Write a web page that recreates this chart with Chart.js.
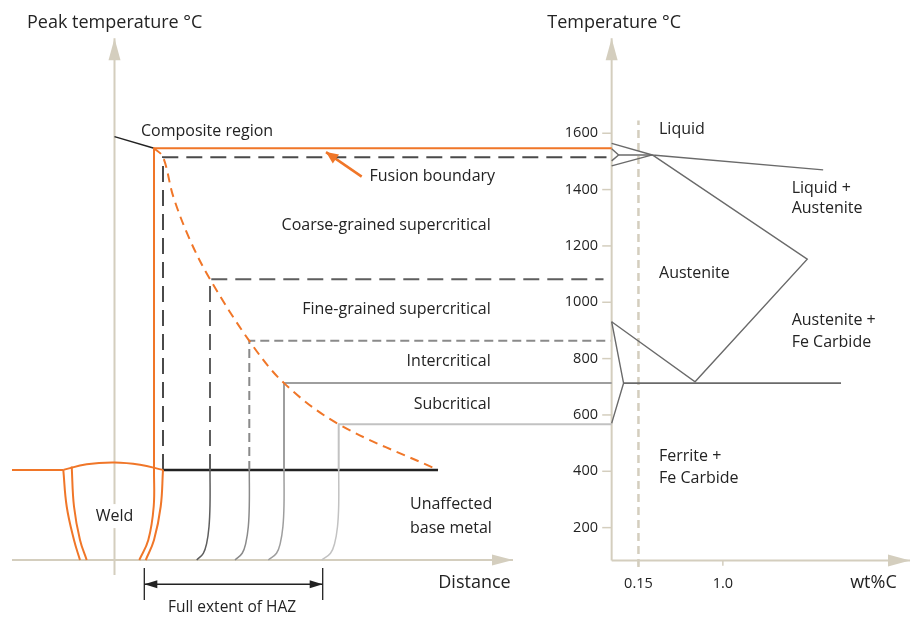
<!DOCTYPE html>
<html>
<head>
<meta charset="utf-8">
<script src="https://cdn.jsdelivr.net/npm/chart.js@4.4.1/dist/chart.umd.min.js"></script>
<style>
  html, body { margin: 0; padding: 0; background: #fff; }
  canvas { display: block; }
</style>
</head>
<body>
<canvas id="haz" width="913" height="622"></canvas>
<script>
// left panel: [distance from weld centre line, peak temperature °C]
const plateSurface = [[-10.25, 405], [-5.12, 405]];
const weldCap = [[-5.12, 405], [-2.78, 425], [0, 431], [2.55, 423], [4.85, 405]];
const weldLeftOuter = [[-5.12, 405], [-4.78, 275], [-4.05, 156], [-3.45, 85]];
const weldLeftInner = [[-4.28, 417], [-4.05, 275], [-3.45, 156], [-2.78, 85]];
const fusionTop = [[49.72, 1547], [3.95, 1547], [3.95, 405]];
const fusionFoot = [[3.95, 405], [3.92, 275], [3.38, 156], [2.48, 85]];
const hazStartFoot = [[4.85, 405], [4.62, 275], [3.95, 156], [3.12, 85]];
const peakCurve = [[3.95, 1547], [4.85, 1516], [5.88, 1375], [7.55, 1221], [9.55, 1082],
                   [13.48, 863], [16.95, 713], [22.42, 567], [32.35, 405]];
const coarseEdge = [[4.85, 405], [4.85, 1515], [49.2, 1515]];
const fineEdge = [[9.55, 405], [9.55, 1082], [48.9, 1082]];
const fineFoot = [[9.55, 405], [9.55, 280], [9.45, 203], [9.22, 145], [8.88, 109], [8.22, 85]];
const interEdge = [[13.48, 405], [13.48, 863], [49.6, 863]];
const interFoot = [[13.48, 405], [13.48, 280], [13.38, 203], [13.13, 145], [12.77, 109], [12.05, 85]];
const subEdge = [[49.72, 713], [16.95, 713], [16.95, 405]];
const subFoot = [[16.95, 405], [16.95, 280], [16.84, 203], [16.58, 145], [16.2, 109], [15.38, 85]];
const outerEdge = [[49.72, 567], [22.42, 567], [22.42, 405]];
const outerFoot = [[22.42, 405], [22.42, 280], [22.3, 203], [22.02, 145], [21.6, 109], [20.72, 85]];
const baseLine = [[4.85, 405], [32.35, 405]];
const compositeLeader = [[0, 1588], [3.95, 1547]];
const fusionPointer = [[24.72, 1446], [21.15, 1533]];
const hazTickL = [[2.98, 57], [2.98, -57]];
const hazTickR = [[20.82, 57], [20.82, -57]];
const hazSpan = [[2.98, -1], [20.82, -1]];
const leftYAxis = [[0, 32], [0, 1937]];
const leftXAxis = [[-10.25, 85], [39.85, 85]];

// right panel: [wt% C, temperature °C]
const rightYAxis = [[-0.12, 83], [-0.12, 1937]];
const rightXAxis = [[-0.12, 83], [2.885, 83]];
const liquidus = [[-0.12, 1564], [0.29, 1523], [2.01, 1470]];
const deltaLoop = [[-0.12, 1545], [-0.05, 1523], [-0.12, 1502]];
const peritectic = [[-0.05, 1523], [0.29, 1523]];
const deltaLower = [[-0.12, 1484], [0.29, 1523]];
const austeniteEdge = [[0.29, 1523], [1.85, 1153], [0.72, 718], [-0.12, 931]];
const ferriteEdge = [[-0.12, 931], [0, 713], [-0.12, 570]];
const eutectoid = [[0, 713], [2.19, 713]];
const steelMarker = [[0.15, 60], [0.15, 1645]];
const tempTicks = [200, 400, 600, 800, 1000, 1200, 1400, 1600];
const carbonTicks = [0.15, 1.0];
const carbonTickLabels = ['0.15', '1.0'];

const notes = [
  { t: 'Peak temperature °C', x: -8.75, y: 1993, s: 'x', a: 'left', f: 18 },
  { t: 'Composite region', x: 2.65, y: 1605, s: 'x', a: 'left' },
  { t: 'Fusion boundary', x: 25.5, y: 1446, s: 'x', a: 'left' },
  { t: 'Coarse-grained supercritical', x: 37.62, y: 1271, s: 'x', a: 'right' },
  { t: 'Fine-grained supercritical', x: 37.62, y: 973, s: 'x', a: 'right' },
  { t: 'Intercritical', x: 37.62, y: 789, s: 'x', a: 'right' },
  { t: 'Subcritical', x: 37.62, y: 636, s: 'x', a: 'right' },
  { t: 'Unaffected', x: 29.55, y: 281, s: 'x', a: 'left' },
  { t: 'base metal', x: 29.55, y: 198, s: 'x', a: 'left' },
  { t: 'Distance', x: 32.38, y: 3, s: 'x', a: 'left', f: 18 },
  { t: 'Weld', x: 0, y: 241, s: 'x', a: 'center', bg: true },
  { t: 'Full extent of HAZ', x: 11.75, y: -85, s: 'x', a: 'center', f: 15.5 },
  { t: 'Temperature °C', x: -0.768, y: 1993, s: 'xc', a: 'left', f: 18 },
  { t: 'Liquid', x: 0.357, y: 1612, s: 'xc', a: 'left' },
  { t: 'Liquid +', x: 1.693, y: 1405, s: 'xc', a: 'left' },
  { t: 'Austenite', x: 1.693, y: 1334, s: 'xc', a: 'left' },
  { t: 'Austenite', x: 0.357, y: 1103, s: 'xc', a: 'left' },
  { t: 'Austenite +', x: 1.693, y: 934, s: 'xc', a: 'left' },
  { t: 'Fe Carbide', x: 1.693, y: 858, s: 'xc', a: 'left' },
  { t: 'Ferrite +', x: 0.357, y: 452, s: 'xc', a: 'left' },
  { t: 'Fe Carbide', x: 0.357, y: 375, s: 'xc', a: 'left' },
  { t: 'wt%C', x: 2.751, y: 3, s: 'xc', a: 'right', f: 18 }
];

const ORANGE = '#f07628';
const BEIGE = '#d4cebe';
const TEXT = '#232323';
const FONT = '"Open Sans", sans-serif';

function line(points, color, width, extra) {
  return Object.assign({
    data: points.map(p => ({ x: p[0], y: p[1] })),
    showLine: true,
    borderColor: color,
    borderWidth: width,
    pointRadius: 0,
    fill: false,
    tension: 0,
    borderJoinStyle: 'miter'
  }, extra || {});
}

const datasets = [
  // axes (drawn underneath)
  line(leftYAxis, BEIGE, 2, { order: 5, arrowEnd: [22, 6] }),
  line(leftXAxis, BEIGE, 2, { order: 5, arrowEnd: [21, 5.5] }),
  line(rightYAxis, BEIGE, 2, { order: 5, xAxisID: 'xc', arrowEnd: [22, 6] }),
  line(rightXAxis, BEIGE, 2, { order: 5, xAxisID: 'xc', arrowEnd: [22, 6] }),
  line(steelMarker, BEIGE, 2.5, { order: 5, xAxisID: 'xc', borderDash: [8, 5] }),

  // weld
  line(plateSurface, ORANGE, 2),
  line(weldCap, ORANGE, 2, { tension: 0.4 }),
  line(weldLeftOuter, ORANGE, 2, { tension: 0.4 }),
  line(weldLeftInner, ORANGE, 2, { tension: 0.4 }),
  line(fusionTop, ORANGE, 2),
  line(fusionFoot, ORANGE, 2, { tension: 0.4 }),
  line(hazStartFoot, ORANGE, 2, { tension: 0.4 }),
  line(peakCurve, ORANGE, 2, { tension: 0.35, borderDash: [9, 6] }),

  // heat affected zone boundaries
  line(coarseEdge, '#4a4a4a', 2, { borderDash: [16, 8] }),
  line(fineEdge, '#5e5e5e', 2, { borderDash: [16, 8] }),
  line(fineFoot, '#5e5e5e', 1.5, { tension: 0.4 }),
  line(interEdge, '#8a8a8a', 2, { borderDash: [9, 5] }),
  line(interFoot, '#8a8a8a', 1.5, { tension: 0.4 }),
  line(subEdge, '#9e9e9e', 2),
  line(subFoot, '#9e9e9e', 1.5, { tension: 0.4 }),
  line(outerEdge, '#c2c2c2', 2),
  line(outerFoot, '#c2c2c2', 1.5, { tension: 0.4 }),
  line(baseLine, '#222222', 2.5),
  line(compositeLeader, '#222222', 1.5),
  line(fusionPointer, ORANGE, 2.5, { arrowEnd: [12, 5.5] }),
  line(hazTickL, '#222222', 1.3),
  line(hazTickR, '#222222', 1.3),
  line(hazSpan, '#222222', 1.3, { arrowStart: [13, 4], arrowEnd: [13, 4] }),

  // iron-carbon diagram
  line(liquidus, '#6a6a6a', 1.4, { xAxisID: 'xc' }),
  line(deltaLoop, '#6a6a6a', 1.4, { xAxisID: 'xc' }),
  line(peritectic, '#6a6a6a', 1.4, { xAxisID: 'xc' }),
  line(deltaLower, '#6a6a6a', 1.4, { xAxisID: 'xc' }),
  line(austeniteEdge, '#6a6a6a', 1.4, { xAxisID: 'xc' }),
  line(ferriteEdge, '#6a6a6a', 1.4, { xAxisID: 'xc' }),
  line(eutectoid, '#6a6a6a', 1.6, { xAxisID: 'xc' })
];

function head(ctx, from, to, size, color) {
  const a = Math.atan2(to.y - from.y, to.x - from.x);
  ctx.save();
  ctx.translate(to.x, to.y);
  ctx.rotate(a);
  ctx.beginPath();
  ctx.moveTo(0, 0);
  ctx.lineTo(-size[0], -size[1]);
  ctx.lineTo(-size[0], size[1]);
  ctx.closePath();
  ctx.fillStyle = color;
  ctx.fill();
  ctx.restore();
}

const decorations = {
  id: 'decorations',
  afterDatasetsDraw(chart) {
    const ctx = chart.ctx;
    const yS = chart.scales.y;
    const xc = chart.scales.xc;

    // arrow heads
    chart.data.datasets.forEach((ds, i) => {
      const pts = chart.getDatasetMeta(i).data;
      if (ds.arrowEnd) head(ctx, pts[pts.length - 2], pts[pts.length - 1], ds.arrowEnd, ds.borderColor);
      if (ds.arrowStart) head(ctx, pts[1], pts[0], ds.arrowStart, ds.borderColor);
    });

    // temperature ticks on the phase diagram axis
    ctx.save();
    ctx.strokeStyle = BEIGE;
    ctx.lineWidth = 1.5;
    ctx.fillStyle = TEXT;
    ctx.font = '14.5px ' + FONT;
    ctx.textAlign = 'right';
    ctx.textBaseline = 'middle';
    tempTicks.forEach(t => {
      const py = yS.getPixelForValue(t);
      ctx.beginPath();
      ctx.moveTo(xc.getPixelForValue(-0.215), py);
      ctx.lineTo(xc.getPixelForValue(-0.12), py);
      ctx.stroke();
      ctx.fillText(String(t), xc.getPixelForValue(-0.2576), py);
    });
    ctx.textAlign = 'center';
    carbonTicks.forEach((c, i) => {
      const px = xc.getPixelForValue(c);
      ctx.beginPath();
      ctx.moveTo(px, yS.getPixelForValue(83));
      ctx.lineTo(px, yS.getPixelForValue(65));
      ctx.stroke();
      ctx.fillText(carbonTickLabels[i], px, yS.getPixelForValue(0));
    });

    // labels
    notes.forEach(n => {
      const px = chart.scales[n.s].getPixelForValue(n.x);
      const py = yS.getPixelForValue(n.y);
      ctx.font = (n.f || 16) + 'px ' + FONT;
      ctx.textAlign = n.a;
      if (n.bg) {
        const w = ctx.measureText(n.t).width;
        ctx.fillStyle = '#fff';
        ctx.fillRect(px - w / 2 - 3, py - 12, w + 6, 24);
      }
      ctx.fillStyle = TEXT;
      ctx.fillText(n.t, px, py);
    });
    ctx.restore();
  }
};

new Chart(document.getElementById('haz'), {
  type: 'scatter',
  data: { datasets: datasets },
  options: {
    responsive: false,
    animation: false,
    events: [],
    layout: { padding: 0 },
    plugins: { legend: { display: false }, tooltip: { enabled: false } },
    scales: {
      x: { type: 'linear', min: -11.45, max: 79.85, display: false },
      xc: { type: 'linear', axis: 'x', min: -6.28, max: 2.915, display: false },
      y: { type: 'linear', min: -135, max: 2073, display: false }
    }
  },
  plugins: [decorations]
});
</script>
</body>
</html>
